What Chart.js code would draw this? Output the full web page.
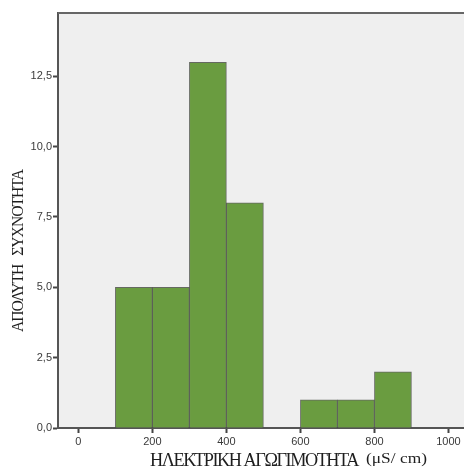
<!DOCTYPE html>
<html>
<head>
<meta charset="utf-8">
<script src="https://cdn.jsdelivr.net/npm/chart.js@4.4.0/dist/chart.umd.min.js"></script>
<style>
  html, body { margin: 0; padding: 0; background: #fff; }
  #wrap { width: 464px; height: 468px; }
</style>
</head>
<body>
<div id="wrap"><canvas id="histChart" width="464" height="468"></canvas></div>
<script>
// bin centres (uS/cm) and counts, bins 100 wide
const binCenters = [150, 250, 350, 450, 650, 750, 850];
const binCounts = [5, 5, 13, 8, 1, 1, 2];
const xTicks = [0, 200, 400, 600, 800, 1000];
const yTicks = [0, 2.5, 5, 7.5, 10, 12.5];
const xTitle = 'ΗΛΕΚΤΡΙΚΗ ΑΓΩΓΙΜΟΤΗΤΑ';
const xUnit = '(μS/ cm)';
const yTitle = 'ΑΠΟΛΥΤΗ   ΣΥΧΝΟΤΗΤΑ';

const serif = '"Liberation Serif", "Times New Roman", serif';

// tight-set text, stretched to a given length along its baseline
function tightText(ctx, text, x, y, font, spacing, len) {
    ctx.save();
    ctx.font = font;
    ctx.letterSpacing = spacing;
    const w = ctx.measureText(text).width;
    ctx.translate(x, y);
    ctx.scale(len / w, 1);
    ctx.fillText(text, 0, 0);
    ctx.restore();
}

// ====== PLOT BACKGROUND + FRAME + AXIS TITLES ======
const framePlugin = {
    id: 'frame',
    beforeDraw(chart) {
        const { ctx, chartArea: a } = chart;
        ctx.save();
        ctx.fillStyle = '#efefef';
        ctx.fillRect(a.left, a.top, a.right - a.left, a.bottom - a.top);
        ctx.restore();
    },
    afterDraw(chart) {
        const { ctx, chartArea: a } = chart;
        ctx.save();
        ctx.strokeStyle = '#666';
        ctx.lineWidth = 2;
        ctx.beginPath();
        ctx.moveTo(a.left, a.top);
        ctx.lineTo(a.right, a.top);
        ctx.stroke();

        ctx.fillStyle = '#1e1e1e';
        ctx.textBaseline = 'alphabetic';
        ctx.textAlign = 'left';
        tightText(ctx, xTitle, 150, 466, '19px ' + serif, '-1.5px', 208);
        tightText(ctx, xUnit, 366, 463, '14px ' + serif, '0px', 61);

        ctx.translate(23, 332);
        ctx.rotate(-Math.PI / 2);
        tightText(ctx, yTitle, 0, 0, '16px ' + serif, '-1px', 162);
        ctx.restore();
    }
};

const ctx = document.getElementById('histChart').getContext('2d');
new Chart(ctx, {
    type: 'bar',
    data: {
        datasets: [{
            data: binCenters.map((c, i) => ({ x: c, y: binCounts[i] })),
            backgroundColor: '#6a9c40',
            borderColor: 'rgba(55,60,50,0.75)',
            borderWidth: 1,
            barPercentage: 1,
            categoryPercentage: 1
        }]
    },
    options: {
        responsive: false,
        animation: false,
        layout: { padding: { top: 13, right: 0, left: 0, bottom: 0 } },
        plugins: { legend: { display: false }, tooltip: { enabled: false } },
        scales: {
            x: {
                type: 'linear',
                offset: false,
                min: -55,
                max: 1042,
                afterBuildTicks: s => { s.ticks = xTicks.map(v => ({ value: v })); },
                afterFit: s => { s.height = 40; },
                grid: { offset: false, drawOnChartArea: false, drawTicks: true, tickLength: 5, color: '#444', tickWidth: 2 },
                border: { color: '#555', width: 2 },
                ticks: {
                    color: '#3a3a3a',
                    font: { family: '"Liberation Sans", Arial, sans-serif', size: 11 },
                    padding: 2,
                    maxRotation: 0,
                    callback: v => v
                }
            },
            y: {
                min: 0,
                max: 14.75,
                afterBuildTicks: s => { s.ticks = yTicks.map(v => ({ value: v })); },
                afterFit: s => { s.width = 58; },
                grid: { drawOnChartArea: false, drawTicks: true, tickLength: 5, color: '#444', tickWidth: 2 },
                border: { color: '#555', width: 2 },
                ticks: {
                    color: '#3a3a3a',
                    font: { family: '"Liberation Sans", Arial, sans-serif', size: 11 },
                    padding: 1,
                    callback: v => v.toFixed(1).replace('.', ',')
                }
            }
        }
    },
    plugins: [framePlugin]
});
</script>
</body>
</html>
